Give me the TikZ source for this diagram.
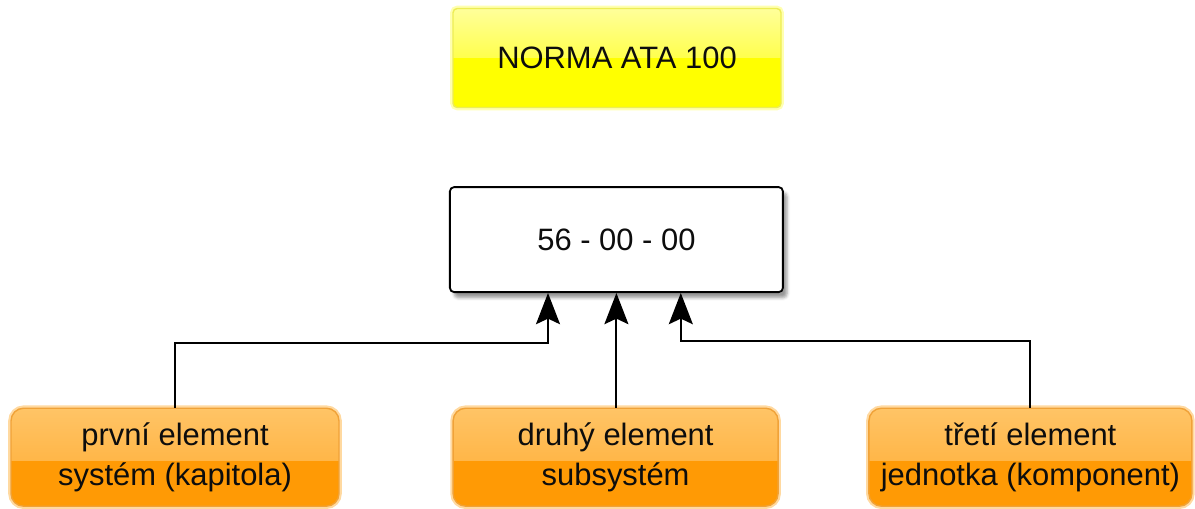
\documentclass[tikz,border=0pt]{standalone}
\usepackage{fontspec}
\setmainfont{Liberation Sans}
\usepackage{tikz}
\usetikzlibrary{arrows.meta,positioning,shadows.blur}
\definecolor{txtgray}{HTML}{0D0D0D}
\definecolor{yelTop}{HTML}{FFFF9A}
\definecolor{yelBot}{HTML}{FFFF00}
\definecolor{yelEdge}{HTML}{EDED55}
\definecolor{yelGlow}{HTML}{FFFFB0}
\definecolor{orTop}{HTML}{FFC466}
\definecolor{orMid}{HTML}{FFAA2E}
\definecolor{orBot}{HTML}{FF9A05}
\definecolor{orEdge}{HTML}{F0A238}
\definecolor{orGlow}{HTML}{FFD9A0}
\tikzset{%
  arrow/.style={-{Stealth[length=7.8mm,width=6mm,inset=1.4mm]}, line width=1.3pt}%
}

\begin{document}
\begin{tikzpicture}[
    font=\fontsize{22}{28.5}\selectfont,
    text=txtgray,
    titlebox/.style={
        draw=yelEdge,
        line width=1pt,
        rounded corners=3pt,
        align=center,
        minimum width=8.2cm,
        minimum height=2.475cm,
        preaction={draw=yelGlow, line width=4pt},
        top color=yelTop,
        bottom color=yelBot,
        path picture={\fill[yelBot, sharp corners] (path picture bounding box.west)
            rectangle (path picture bounding box.south east);}
    },
    codebox/.style={
        draw=black,
        line width=1.3pt,
        rounded corners=3pt,
        fill=white,
        align=center,
        minimum width=8.325cm,
        minimum height=2.625cm,
        blur shadow={shadow xshift=3pt, shadow yshift=-4pt, shadow opacity=40}
    },
    elembox/.style={
        draw=orEdge,
        line width=1pt,
        rounded corners=9pt,
        align=center,
        minimum height=2.45cm,
        preaction={draw=orGlow, line width=4pt},
        top color=orTop,
        bottom color=orMid,
        path picture={\fill[orBot, sharp corners] ([yshift=-1mm]path picture bounding box.west)
            rectangle (path picture bounding box.south east);}
    }
]
\useasboundingbox (0,0) rectangle (29.875,-12.7);

% Top label and code
\node[titlebox] (norma) at (15.425,-1.45) {NORMA ATA 100};

\node[codebox] (code) at (15.41,-5.99) {56 - 00 - 00};

% Elements of the code
\node[elembox, minimum width=8.2cm] (elem1) at (4.375,-11.43)
{první element\\systém (kapitola)};

\node[elembox, minimum width=8.125cm] (elem2) at (15.39,-11.43)
{druhý element\\subsystém};

\node[elembox, minimum width=8.075cm] (elem3) at (25.76,-11.43)
{třetí element\\jednotka (komponent)};

% Arrow targets on the code box
\coordinate (in1) at ([xshift=-1.71cm]code.south);
\coordinate (in3) at ([xshift=1.61cm]code.south);

% Arrows
\draw[arrow] (elem1.north) |- ([yshift=-1.25cm]in1) -- (in1);
\draw[arrow] (elem2.north -| code.south) -- (code.south);
\draw[arrow] (elem3.north) |- ([yshift=-1.2cm]in3) -- (in3);

\end{tikzpicture}
\end{document}
